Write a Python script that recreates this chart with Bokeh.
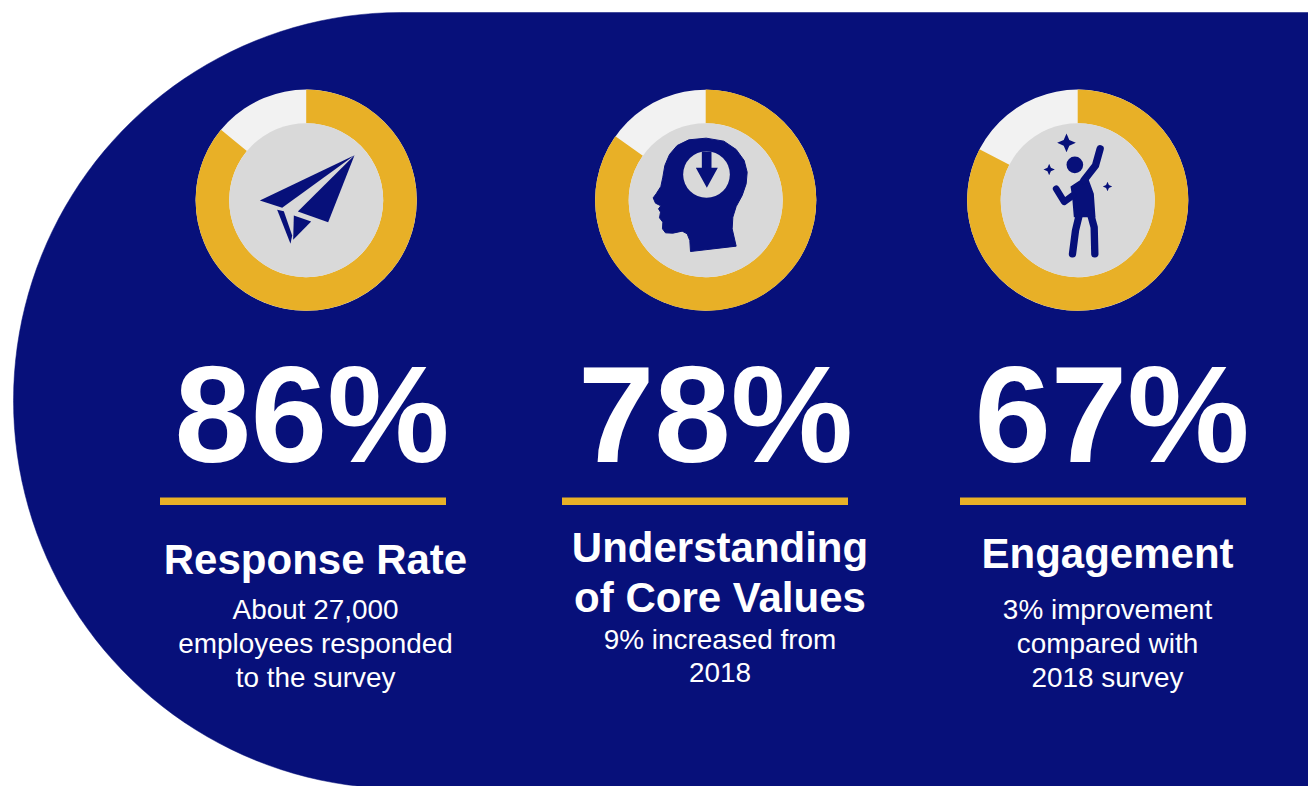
from bokeh.plotting import figure
from bokeh.models import Range1d
from bokeh.core.properties import value
from bokeh.embed import file_html
from bokeh.resources import INLINE
import math

metrics = ["86%", "78%", "67%"]
ring_share = [86.0, 84.8, 82.6]
titles = [["Response Rate"], ["Understanding", "of Core Values"], ["Engagement"]]
notes = [["About 27,000", "employees responded", "to the survey"],
         ["9% increased from", "2018"],
         ["3% improvement", "compared with", "2018 survey"]]

NAVY, GOLD, PALE, DISC = "#07107a", "#e8b027", "#f2f2f2", "#d9d9d9"
F = value("Liberation Sans")

p = figure(width=1308, height=786, output_backend="svg", toolbar_location=None,
           x_range=Range1d(0, 1308), y_range=Range1d(786, 0), min_border=0,
           outline_line_color=None, background_fill_color="white", border_fill_color="white")
p.xaxis.visible = False
p.yaxis.visible = False
p.grid.visible = False

def label(xs, ys, lines, size, style="normal"):
    shift = 0.37 * size
    p.text(xs, [y - shift for y in ys], text=lines, text_font=F, text_font_style=style,
           text_font_size=f"{size}px", text_color="white", text_align="center",
           text_baseline="alphabetic")

# navy panel
cx, cy, rx, ry = 400, 400, 387, 388
ang = [math.pi/2 + i*math.pi/90 for i in range(0, 91)]
px = [cx + rx*math.cos(a) for a in ang]
py = [cy - ry*math.sin(a) for a in ang]
p.patch([1308] + px + [1308], [12] + py + [py[-1]], color=NAVY, line_color=NAVY, line_width=0.5)

centres = [(305.7, 199.7), (705.2, 199.7), (1077.2, 199.7)]
R, r = 110.6, 77
for (x, y), share in zip(centres, ring_share):
    p.circle([x], [y], radius=R, fill_color=PALE, line_color=None)
    start = math.pi/2
    end = start - 2*math.pi*share/100
    p.annular_wedge([x], [y], inner_radius=r, outer_radius=R, start_angle=start, end_angle=end,
                    direction="clock", fill_color=GOLD, line_color=None)
    p.circle([x], [y], radius=r, fill_color=DISC, line_color=None)

def z(pts, ox, oy):
    return [ox + a/3 for a, b in pts], [oy + b/3 for a, b in pts]

# icon 1: paper plane
x0, y0 = 180, 80
plane = [[(238,360),(522,224),(305,382)],
         [(522,224),(443,425),(352,393)],
         [(290,388),(310,392),(335,465),(330,490)],
         [(340,405),(392,423),(338,478)]]
for s in plane:
    a, b = z(s, x0, y0)
    p.patch(a, b, color=NAVY, line_color=None)

# icon 2: head
hx, hy = 585, 80
head = [(203,352),(212,340),(226,318),(232,290),(238,255),(252,222),(275,195),(310,178),(362,173),
        (415,182),(452,207),(476,240),(485,275),(482,310),(470,345),(452,378),(442,410),(440,445),
        (452,497),(315,513),(313,480),(305,460),(290,452),(262,458),(240,457),(231,445),(232,425),
        (222,412),(225,395),(219,385),(226,376),(210,368)]
a, b = z(head, hx, hy)
p.patch(a, b, fill_color=NAVY, line_color=NAVY, line_width=1, line_join="round")
p.circle([hx + 363/3], [hy + 282/3], radius=70/3, fill_color=DISC, line_color=None)
arrow = [(349,213),(378,213),(378,262),(397,262),(364,322),(331,262),(349,262)]
a, b = z(arrow, hx, hy)
p.patch(a, b, color=NAVY, line_color=None)

# icon 3: figure and sparkles
jx, jy = 955, 80
p.circle([jx + 358/3], [jy + 253/3], radius=25/3, fill_color=NAVY, line_color=None)
torso = [(345,318),(395,285),(415,340),(420,410),(355,410),(350,350)]
a, b = z(torso, jx, jy)
p.patch(a, b, color=NAVY, line_color=None)
limbs = [([(385,300),(420,255),(434,205)], 22),
         ([(302,325),(326,364),(352,345)], 20),
         ([(372,400),(360,450),(351,520)], 22),
         ([(405,400),(416,440),(418,520)], 22)]
for pts, w in limbs:
    a, b = z(pts, jx, jy)
    p.line(a, b, line_color=NAVY, line_width=w/3, line_cap="round", line_join="round")
for sx, sy, q in [(333, 187, 28), (281, 267, 17), (456, 318, 14)]:
    d = q*0.3
    star = [(sx, sy-q),(sx+d, sy-d),(sx+q, sy),(sx+d, sy+d),(sx, sy+q),(sx-d, sy+d),(sx-q, sy),(sx-d, sy-d)]
    a, b = z(star, jx, jy)
    p.patch(a, b, color=NAVY, line_color=None)

# big numbers
label([311.5, 715, 1111.5], [465]*3, metrics, 137.5, "bold")

# rules
for a0, a1 in [(159.5, 445.5), (561.5, 847.5), (959.5, 1245.5)]:
    p.line([a0, a1], [500.8, 500.8], line_color=GOLD, line_width=7.5)

# titles and notes
tx = [315, 719.5, 1107]
ty = [[575], [563, 613], [569]]
ny = [[619, 653, 687.5], [649, 682], [619.5, 653.5, 687.5]]
for x, ys, lines in zip(tx, ty, titles):
    label([x]*len(lines), ys, lines, 42, "bold")
for x, ys, lines in zip(tx, ny, notes):
    label([x]*len(lines), ys, lines, 27.9)

open("out.html", "w").write(file_html(p, INLINE))
